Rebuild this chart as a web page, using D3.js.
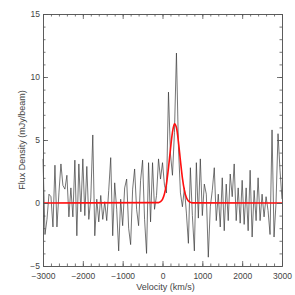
<!DOCTYPE html>
<html>
<head>
<meta charset="utf-8">
<script src="https://cdn.jsdelivr.net/npm/d3@7"></script>
<style>
  body { margin: 0; background: #fff; }
  text { font-family: "Liberation Sans", "DejaVu Sans", sans-serif; fill: #444; }
</style>
</head>
<body>
<div id="chart"></div>
<script>
// spectrum channels, 50 km/s apart starting at -3000
const startVel = -3000;
const chanWidth = 50;
const flux = [
  3.5, -2.5, -1.3, 0.7, 0.5, -1.9, 3.0, -1.9, 0.8, 3.1,
  1.4, 1.1, 2.2, -1.1, 1.2, -1.1, 3.4, -2.6, 3.1, -0.7,
  3.5, -1.0, 2.9, -1.3, 0.4, 5.4, -2.6, 0.3, -1.5, 0.6,
  -1.3, 0.1, -1.4, 1.0, 3.6, -2.6, 1.6, -0.5, -3.8, 0.3,
  -1.8, 1.2, 1.9, -2.0, -3.3, 1.1, 2.7, -0.5, -1.8, 1.8,
  3.4, -1.3, -4.0, 3.2, -1.5, 3.2, -0.5, 0.6, 3.5, 1.9,
  3.2,
  1.4, 0.8, 8.8, 3.9, 2.2, 5.6, 11.9, 4.5, 0.8, -0.3,
  1.2, -0.8, -3.2, 2.8, -1.0, -3.8, 3.2, -1.2, 3.5, -1.0,
  1.5, 0.7, -4.3, -0.3, 1.0, 2.8, -1.4, 0.7, -1.9, 2.0,
  -2.2, 1.5, -1.4, 2.3, 0.5, 3.1, -1.4, 1.2, -1.6, 1.8,
  -1.7, 1.2, -2.2, 2.6, -2.7, 1.0, -1.4, 2.0, -1.4, 0.7,
  -1.1, 0.5, -0.6, -2.5, 5.8, -2.7, 0.0, 5.5, 2.6, 0.3
];

// gaussian fit
const fitVel  = [-3000, -100, -50, 0, 50, 100, 150, 200, 250, 300, 350, 400, 450, 500, 550, 600, 650, 700, 750, 3000];
const fitFlux = [0, 0.03, 0.10, 0.29, 0.73, 1.54, 2.78, 4.28, 5.61, 6.28, 5.99, 4.86, 3.36, 1.98, 1.00, 0.43, 0.16, 0.05, 0.01, 0];

const xTicks = [-3000, -2000, -1000, 0, 1000, 2000, 3000];
const yTicks = [-5, 0, 5, 10, 15];

const width = 295, height = 295;
const mLeft = 43, mRight = 282, mTop = 14, mBottom = 266;

const svg = d3.select("#chart")
    .append("svg")
    .attr("width", width)
    .attr("height", height);

const x = d3.scaleLinear().domain([-3000, 3000]).range([mLeft, mRight]);
const y = d3.scaleLinear().domain([-5, 15]).range([mBottom, mTop]);

const spec = flux.map((f, i) => ({v: startVel + i * chanWidth, f: f}));
const fit = fitVel.map((v, i) => ({v: v, f: fitFlux[i]}));

svg.append("path")
    .datum(spec)
    .attr("fill", "none")
    .attr("stroke", "#3a3a3a")
    .attr("stroke-width", 0.7)
    .attr("d", d3.line().x(d => x(d.v)).y(d => y(d.f)));

svg.append("path")
    .datum(fit)
    .attr("fill", "none")
    .attr("stroke", "#ff0f0f")
    .attr("stroke-width", 1.6)
    .attr("d", d3.line().x(d => x(d.v)).y(d => y(d.f)).curve(d3.curveMonotoneX));

// axes, ticks pointing inward on all four sides
const axisColor = "#555";
const minorX = d3.range(-3000, 3001, 200);
const minorY = d3.range(-5, 16, 1);

function styleAxis(g) {
    g.select(".domain").attr("stroke", axisColor).attr("stroke-width", 0.8);
    g.selectAll(".tick line").attr("stroke", axisColor).attr("stroke-width", 0.8);
    g.selectAll("text").attr("font-size", 8.5).attr("fill", "#444")
        .attr("font-family", "Liberation Sans, DejaVu Sans, sans-serif");
}

// minor ticks first
svg.append("g").attr("transform", `translate(0,${mBottom})`)
    .call(d3.axisTop(x).tickValues(minorX).tickSize(2.5).tickFormat("").tickSizeOuter(0))
    .call(styleAxis);
svg.append("g").attr("transform", `translate(0,${mTop})`)
    .call(d3.axisBottom(x).tickValues(minorX).tickSize(2.5).tickFormat("").tickSizeOuter(0))
    .call(styleAxis);
svg.append("g").attr("transform", `translate(${mLeft},0)`)
    .call(d3.axisRight(y).tickValues(minorY).tickSize(2.5).tickFormat("").tickSizeOuter(0))
    .call(styleAxis);
svg.append("g").attr("transform", `translate(${mRight},0)`)
    .call(d3.axisLeft(y).tickValues(minorY).tickSize(2.5).tickFormat("").tickSizeOuter(0))
    .call(styleAxis);

// major ticks with labels
const xAxis = svg.append("g").attr("transform", `translate(0,${mBottom})`)
    .call(d3.axisTop(x).tickValues(xTicks).tickSize(5).tickSizeOuter(0).tickFormat(d => d < 0 ? "\u2212" + Math.abs(d) : d))
    .call(styleAxis);
xAxis.selectAll(".tick text").attr("y", 6.5).attr("dy", "0.71em");

svg.append("g").attr("transform", `translate(0,${mTop})`)
    .call(d3.axisBottom(x).tickValues(xTicks).tickSize(5).tickFormat("").tickSizeOuter(0))
    .call(styleAxis);

const yAxis = svg.append("g").attr("transform", `translate(${mLeft},0)`)
    .call(d3.axisRight(y).tickValues(yTicks).tickSize(5).tickSizeOuter(0).tickFormat(d => d < 0 ? "\u2212" + Math.abs(d) : d))
    .call(styleAxis);
yAxis.selectAll(".tick text").attr("x", -3).attr("text-anchor", "end").attr("dy", "0.28em");

svg.append("g").attr("transform", `translate(${mRight},0)`)
    .call(d3.axisLeft(y).tickValues(yTicks).tickSize(5).tickFormat("").tickSizeOuter(0))
    .call(styleAxis);

// axis titles
svg.append("text")
    .attr("x", (mLeft + mRight) / 2 + 3)
    .attr("y", 290)
    .attr("text-anchor", "middle")
    .attr("font-size", 9)
    .text("Velocity (km/s)");

svg.append("text")
    .attr("transform", `translate(25,${(mTop + mBottom) / 2}) rotate(-90)`)
    .attr("text-anchor", "middle")
    .attr("font-size", 9)
    .text("Flux Density (mJy/beam)");
</script>
</body>
</html>
